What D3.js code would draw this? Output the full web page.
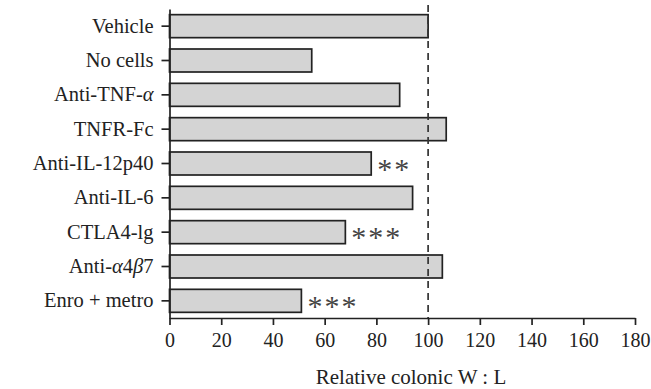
<!DOCTYPE html>
<html lang="en">
<head>
    <meta charset="UTF-8">
    <title>Relative colonic W:L</title>
    <script src="https://d3js.org/d3.v7.min.js"></script>
    <style>
        body { margin: 0; background: #fff; }
        text { font-family: "Liberation Serif", "DejaVu Serif", serif; fill: #222; }
    </style>
</head>
<body>
    <div id="chart"></div>
    <script>
        const ancho = 651;
        const alto = 389;

        // Datos
        const grupos = ["Vehicle", "No cells", "Anti-TNF-α", "TNFR-Fc", "Anti-IL-12p40",
            "Anti-IL-6", "CTLA4-lg", "Anti-α4β7", "Enro + metro"];
        const valores = [100, 55, 89, 107, 78, 94, 68, 105.5, 51];
        const asteriscos = ["", "", "", "", "**", "", "***", "", "***"];
        const ticksX = [0, 20, 40, 60, 80, 100, 120, 140, 160, 180];
        const referencia = 100;

        const svg = d3.select("#chart")
            .append("svg")
            .attr("width", ancho)
            .attr("height", alto);

        const x = d3.scaleLinear()
            .domain([0, 180])
            .range([169.5, 635]);

        const y = d3.scaleBand()
            .domain(grupos)
            .range([9, 318])
            .paddingInner(0.33)
            .paddingOuter(0.165);

        // Barras
        svg.selectAll("rect.barra")
            .data(grupos)
            .enter()
            .append("rect")
            .attr("class", "barra")
            .attr("x", x(0))
            .attr("y", d => y(d))
            .attr("width", (d, i) => x(valores[i]) - x(0))
            .attr("height", y.bandwidth())
            .attr("fill", "#d4d4d4")
            .attr("stroke", "#222")
            .attr("stroke-width", 1.7);

        // Línea de referencia discontinua
        svg.append("line")
            .attr("x1", x(referencia))
            .attr("x2", x(referencia))
            .attr("y1", 5)
            .attr("y2", 318)
            .attr("stroke", "#333")
            .attr("stroke-width", 1.7)
            .attr("stroke-dasharray", "7,5");

        // Asteriscos de significancia
        const tamAst = 30;
        svg.selectAll("text.sig")
            .data(grupos)
            .enter()
            .append("text")
            .attr("class", "sig")
            .attr("x", (d, i) => x(valores[i]) + 6)
            .attr("y", d => y(d) + y.bandwidth() / 2 + tamAst * 0.5)
            .attr("font-size", tamAst)
            .attr("letter-spacing", 2)
            .style("fill", "#444")
            .text((d, i) => asteriscos[i]);

        // Eje X
        const ejeX = svg.append("g")
            .attr("transform", "translate(0,318)")
            .call(d3.axisBottom(x).tickValues(ticksX).tickSize(7).tickSizeOuter(0).tickPadding(8));
        ejeX.select(".domain").attr("stroke", "#222").attr("stroke-width", 1.7);
        ejeX.selectAll(".tick line").attr("stroke", "#222").attr("stroke-width", 1.7);
        ejeX.selectAll(".tick text").attr("font-size", 20).attr("font-family", null);

        // Eje Y
        const ejeY = svg.append("g")
            .attr("transform", `translate(${x(0)},0)`)
            .call(d3.axisLeft(y).tickSize(8).tickSizeOuter(0).tickPadding(8));
        ejeY.select(".domain").attr("stroke", "#222").attr("stroke-width", 1.7);
        ejeY.selectAll(".tick line").attr("stroke", "#222").attr("stroke-width", 1.7);
        ejeY.selectAll(".tick text")
            .attr("font-size", 20.5)
            .attr("font-family", null)
            .each(function (d) {
                const t = d3.select(this);
                t.text(null);
                // Letras griegas en cursiva
                d.split(/([αβ])/).filter(s => s.length).forEach(s => {
                    t.append("tspan")
                        .style("font-style", /[αβ]/.test(s) ? "italic" : null)
                        .text(s);
                });
            });

        // Título del eje X
        svg.append("text")
            .attr("x", 411)
            .attr("y", 384)
            .attr("text-anchor", "middle")
            .attr("font-size", 21)
            .text("Relative colonic W : L");
    </script>
</body>
</html>
